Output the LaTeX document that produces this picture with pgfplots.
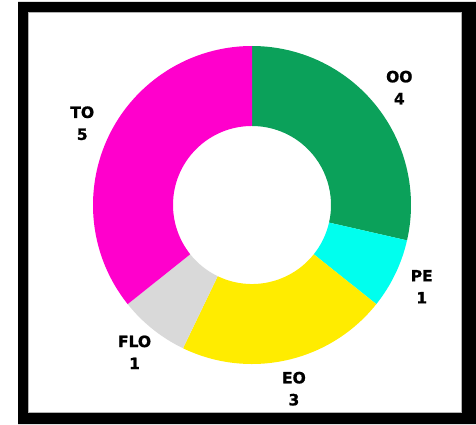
\documentclass[border=0pt]{standalone}
\usepackage{pgfplots}
\pgfplotsset{compat=1.18}
\usepackage{pgfplotstable}
\usepackage{fontspec}
\setmainfont{DejaVu Sans}
\newfontfamily\labfont[BoldFeatures={FakeBold=1.3}]{DejaVu Sans}
\definecolor{cOO}{HTML}{0BA15A}
\definecolor{cPE}{HTML}{00FFEE}
\definecolor{cEO}{HTML}{FFEC00}
\definecolor{cFLO}{HTML}{D9D9D9}
\definecolor{cTO}{HTML}{FF00CC}

% slices clockwise from 12 o'clock
\pgfplotstableread{
label value color
OO 4 cOO
PE 1 cPE
EO 3 cEO
FLO 1 cFLO
TO 5 cTO
}\slices

\begin{document}
\begin{tikzpicture}[x=1pt,y=1pt]
\useasboundingbox (0,0) rectangle (476,424);
% frame
\fill[black,even odd rule] (18,0) rectangle (476,422) (28,11) rectangle (462,412);
\draw[gray!60,line width=0.8pt] (28.4,11.4) rectangle (461.6,411.6);

\pgfplotstablegetrowsof{\slices}
\pgfmathtruncatemacro\nrows{\pgfplotsretval-1}
\def\total{0}
\pgfplotsforeachungrouped \row in {0,...,\nrows}{%
  \pgfplotstablegetelem{\row}{value}\of\slices
  \pgfmathsetmacro\total{\total+\pgfplotsretval}}
\def\cum{0}
\def\donut{}
\pgfplotsforeachungrouped \row in {0,...,\nrows}{%
  \pgfplotstablegetelem{\row}{value}\of\slices \let\sv\pgfplotsretval
  \pgfplotstablegetelem{\row}{label}\of\slices \let\lab\pgfplotsretval
  \pgfplotstablegetelem{\row}{color}\of\slices \let\col\pgfplotsretval
  \pgfmathsetmacro\aA{90-360*\cum/\total}
  \pgfmathsetmacro\aB{90-360*(\cum+\sv)/\total}
  \pgfmathsetmacro\aM{(\aA+\aB)/2}
  \pgfmathsetmacro\cum{\cum+\sv}
  \edef\donut{\unexpanded\expandafter{\donut}%
    \noexpand\fill[\col] (axis cs:{cos(\aA)},{sin(\aA)})
      arc[start angle=\aA,end angle=\aB,radius=159pt]
      -- (axis cs:{0.497*cos(\aB)},{0.497*sin(\aB)})
      arc[start angle=\aB,end angle=\aA,radius=79pt] -- cycle;
    \noexpand\node[align=center,font=\noexpand\labfont\noexpand\bfseries\noexpand\fontsize{15.5}{22}\noexpand\selectfont]
      at (axis cs:{1.185*cos(\aM)},{1.185*sin(\aM)}) {\lab\noexpand\\\sv};
  }%
}

\begin{axis}[
    at={(252pt,219pt)}, anchor=center,
    width=318pt, height=318pt, scale only axis,
    xmin=-1, xmax=1, ymin=-1, ymax=1,
    hide axis, clip=false,
]
\donut
\end{axis}
\end{tikzpicture}
\end{document}
